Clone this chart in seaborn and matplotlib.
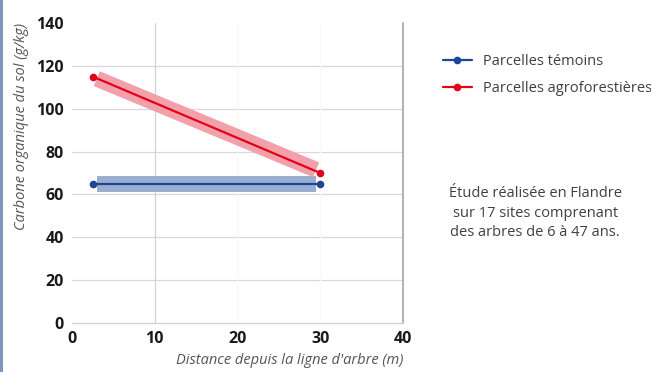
import matplotlib
matplotlib.use("Agg")
import matplotlib.pyplot as plt
import seaborn as sns
import pandas as pd

# Measured soil organic carbon
distance = [2.5, 30]
temoins = [65, 65]
agro = [115, 70]

# Trend bands drawn behind the measurement lines
band_distance = [3.0, 29.5]
band_temoins = [65, 65]
band_agro = [114, 71.5]

series_names = ["Parcelles témoins", "Parcelles agroforestières"]
x_ticks = [0, 10, 20, 30, 40]
y_ticks = [0, 20, 40, 60, 80, 100, 120, 140]

sns.set_style("white")
plt.rcParams["font.family"] = ["Open Sans", "DejaVu Sans"]

blue = "#1f4696"
red = "#e4001b"
blue_band = "#9aaed0"
red_band = "#f2a1ab"

fig = plt.figure(figsize=(6.51, 3.72), dpi=100)
ax = fig.add_axes([0.1106, 0.1317, 0.5084, 0.8065])

df = pd.DataFrame({
    "distance": distance * 2,
    "carbone": temoins + agro,
    "serie": [series_names[0]] * 2 + [series_names[1]] * 2,
})
band_df = pd.DataFrame({
    "distance": band_distance * 2,
    "carbone": band_temoins + band_agro,
    "serie": [series_names[0]] * 2 + [series_names[1]] * 2,
})

# horizontal grid
for y in y_ticks[1:-1]:
    ax.axhline(y, color="#d9d9d9", lw=0.9, zorder=0)
ax.axvline(10, color="#cfcfcf", lw=0.8, zorder=0)
for xv in (20, 30):
    ax.axvline(xv, color="#fafafa", lw=0.8, zorder=0)

sns.lineplot(data=band_df, x="distance", y="carbone", hue="serie",
             palette=[blue_band, red_band], lw=11.5, legend=False, ax=ax,
             solid_capstyle="butt", zorder=1)
sns.lineplot(data=df, x="distance", y="carbone", hue="serie",
             palette=[blue, red], lw=1.6, marker="o", markersize=5.5,
             markeredgewidth=0, ax=ax, zorder=3)

ax.set_xlim(0, 40)
ax.set_ylim(0, 140)
ax.set_xticks(x_ticks)
ax.set_yticks(y_ticks)
ax.tick_params(length=0, labelsize=11.5, colors="#1a1a1a", pad=6)
for lab in ax.get_xticklabels() + ax.get_yticklabels():
    lab.set_fontweight("bold")

for side in ("top", "left"):
    ax.spines[side].set_visible(False)
ax.spines["bottom"].set_color("#d0d0d0")
ax.spines["bottom"].set_linewidth(0.9)
ax.spines["right"].set_color("#a6a6a6")
ax.spines["right"].set_linewidth(1.2)

ax.set_xlabel("Distance depuis la ligne d'arbre (m)", fontsize=10.5,
              style="italic", color="#555555", loc="right", labelpad=4)
ax.set_ylabel("Carbone organique du sol (g/kg)", fontsize=10.5,
              style="italic", color="#555555", loc="top", labelpad=5)

leg = ax.legend(loc="upper left", bbox_to_anchor=(1.08, 0.94), frameon=False,
                fontsize=10.5, labelcolor="#404040", handlelength=2.0,
                labelspacing=0.8, title=None)

fig.text(0.822, 0.50, "Étude réalisée en Flandre\nsur 17 sites comprenant\ndes arbres de 6 à 47 ans.",
         ha="center", va="top", fontsize=10.5, color="#404040", linespacing=1.42)

# thin frame line on the left edge
fig.add_artist(plt.Line2D([0.002, 0.002], [0, 1], color="#7f96bb", lw=2.2,
                          transform=fig.transFigure))

fig.savefig("out.png", dpi=100, facecolor="white")
